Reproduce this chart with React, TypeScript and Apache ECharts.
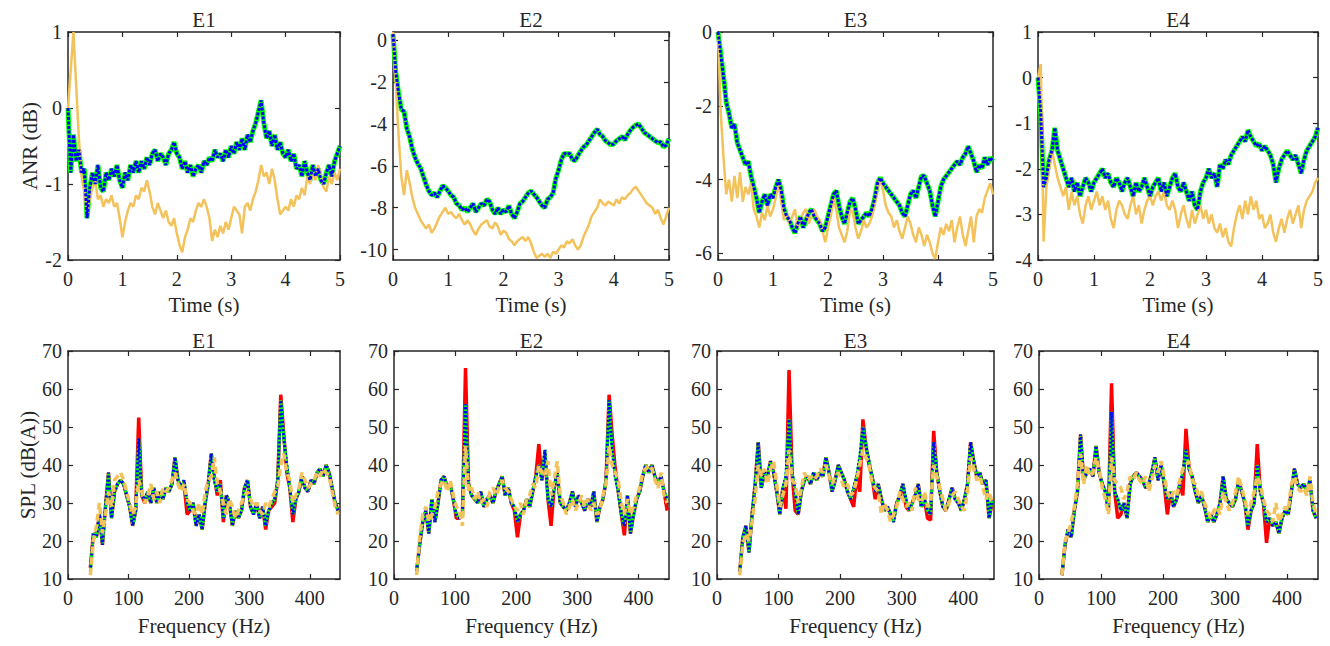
import { useEffect, useRef } from 'react'
import * as echarts from 'echarts'

const TITLES = ['E1', 'E2', 'E3', 'E4']

// sample grids (x positions only)
const TIME = Array.from({ length: 101 }, (_, i) => Math.round(i * 5) / 100)
const FREQ = Array.from({ length: 83 }, (_, i) => 37 + i * 5)

const TIME_TICKS = [0, 1, 2, 3, 4, 5]
const FREQ_TICKS = [0, 100, 200, 300, 400]
const SPL_TICKS = [10, 20, 30, 40, 50, 60, 70]
const ANR_TICKS = [
  [-2, -1, 0, 1],
  [-10, -8, -6, -4, -2, 0],
  [-6, -4, -2, 0],
  [-4, -3, -2, -1, 0, 1],
]
const ANR_RANGE = [[-2, 1], [-10.5, 0.4], [-6.18, 0], [-4, 1]]

// ANR (dB), controlled (green + blue dotted) and reference (yellow)
const anrE1Ctrl = [
  0, -0.85, -0.35, -0.7, -0.55, -0.85, -0.8, -1.45, -1.05, -0.85,
  -1.0, -0.75, -1.05, -1.1, -0.85, -0.95, -0.8, -0.9, -0.75, -0.95,
  -1.05, -0.85, -0.95, -0.75, -0.85, -0.7, -0.85, -0.7, -0.8, -0.65,
  -0.75, -0.6, -0.55, -0.7, -0.6, -0.65, -0.75, -0.6, -0.55, -0.45,
  -0.6, -0.65, -0.8, -0.7, -0.85, -0.75, -0.9, -0.8, -0.75, -0.85,
  -0.7, -0.75, -0.65, -0.7, -0.55, -0.65, -0.6, -0.7, -0.55, -0.65,
  -0.5, -0.6, -0.45, -0.55, -0.4, -0.55, -0.35, -0.45, -0.3, -0.2,
  -0.05, 0.1, -0.2, -0.4, -0.3, -0.5, -0.35, -0.55, -0.45, -0.6,
  -0.65, -0.55, -0.7, -0.6, -0.8, -0.75, -0.9, -0.7, -0.85, -0.95,
  -0.75, -0.9, -0.8, -0.95, -1.0, -0.85, -0.75, -0.9, -0.7, -0.6,
  -0.5,
]
const anrE1Ref = [
  0, 0.5, 1.0, 0.3, -0.4, -0.9, -1.1, -1.4, -1.2, -1.05,
  -0.95, -1.2, -1.15, -1.3, -1.2, -1.25, -1.15, -1.3, -1.25, -1.45,
  -1.7, -1.5, -1.35, -1.25, -1.3, -1.15, -1.2, -1.05, -1.1, -0.95,
  -1.1, -1.3, -1.4, -1.25, -1.35, -1.45, -1.35, -1.5, -1.55, -1.45,
  -1.65, -1.8, -1.9, -1.7, -1.6, -1.45, -1.5, -1.35, -1.25, -1.3,
  -1.2, -1.3, -1.45, -1.75, -1.6, -1.7, -1.55, -1.65, -1.5, -1.6,
  -1.45, -1.3, -1.35, -1.4, -1.65, -1.3, -1.25, -1.35, -1.2, -1.1,
  -0.95, -0.75, -0.9, -0.85, -1.0, -0.8, -0.95, -1.2, -1.4, -1.35,
  -1.3, -1.35, -1.2, -1.3, -1.15, -1.2, -1.05, -1.15, -0.9, -1.0,
  -0.85, -0.95, -0.75, -0.9, -1.05, -1.1, -0.9, -1.0, -0.85, -0.95,
  -0.8,
]
const anrE2Ctrl = [
  0.3, -1.5, -2.5, -3.3, -3.4, -4.2, -4.6, -5.2, -5.6, -5.9,
  -6.1, -6.5, -6.9, -7.2, -7.4, -7.3, -7.5, -7.2, -6.95, -7.05,
  -7.2, -7.4, -7.5, -7.8, -7.9, -8.1, -8.0, -8.2, -8.0, -7.8,
  -8.2, -8.0, -7.8, -7.9, -7.6, -7.7, -8.1, -8.3, -8.0, -8.3,
  -8.1, -8.2, -7.9, -8.3, -8.5, -8.2, -7.8, -7.7, -7.5, -7.3,
  -7.2, -7.35, -7.5, -7.7, -7.9, -8.0, -7.6, -7.5, -7.3, -6.6,
  -6.2, -5.7, -5.4, -5.45, -5.4, -5.7, -5.75, -5.5, -5.3, -5.1,
  -5.0, -4.8, -4.6, -4.4, -4.25, -4.5, -4.6, -4.8, -4.9, -5.0,
  -4.95, -4.8, -4.7, -4.6, -4.75, -4.5, -4.3, -4.15, -4.05, -4.0,
  -4.2, -4.4, -4.5, -4.6, -4.7, -4.8, -4.9, -4.85, -5.1, -5.0,
  -4.7,
]
const anrE2Ref = [
  0.4, -2.0, -4.5, -6.5, -7.4, -6.2, -6.8, -7.5, -8.0, -8.3,
  -8.6, -8.8, -9.0, -8.8, -9.2, -9.0, -8.7, -8.4, -8.2, -8.0,
  -8.3, -8.2, -8.4, -8.5, -8.3, -8.6, -8.8, -8.6, -8.8, -9.1,
  -9.3, -9.0, -8.8, -8.7, -8.6, -8.9, -9.0, -8.7, -8.9, -9.3,
  -9.1, -9.2, -9.5, -9.6, -9.8, -9.6, -9.5, -9.4, -9.6, -9.4,
  -9.7, -10.1, -10.4, -10.3, -10.2, -10.35, -10.2, -10.4, -10.1, -10.2,
  -10.0, -9.8, -9.9, -9.6, -9.7, -9.5, -9.8, -10.0, -9.8, -9.4,
  -9.1, -8.8, -8.4, -8.2, -8.0, -7.6, -7.8, -7.9, -7.7, -7.8,
  -7.9, -7.6, -7.8, -7.5, -7.6, -7.4, -7.3, -7.1, -7.0, -7.2,
  -7.4, -7.6, -7.8, -7.9, -8.0, -8.3, -8.1, -8.5, -8.8, -8.4,
  -8.0,
]
const anrE3Ctrl = [
  0, -0.6, -1.2, -1.9, -2.2, -2.6, -2.5, -3.0, -3.2, -3.4,
  -3.6, -3.5, -3.9, -4.2, -4.5, -4.9, -4.6, -4.4, -4.7, -4.4,
  -4.5, -4.2, -4.0, -4.3, -4.8, -5.0, -5.1, -5.3, -5.45, -5.2,
  -5.0, -5.3, -5.1, -4.9, -4.8, -5.0, -5.1, -5.2, -5.4, -5.3,
  -5.0, -4.7, -4.4, -4.3, -4.7, -5.0, -5.2, -4.9, -4.6, -4.5,
  -4.8, -5.2, -5.1, -5.0, -4.9, -5.0, -4.8, -4.5, -4.1, -3.95,
  -4.1, -4.2, -4.3, -4.4, -4.5, -4.6, -4.7, -4.9, -5.0, -4.7,
  -4.4, -4.3, -4.5, -4.2, -3.9, -3.9, -4.1, -4.3, -4.7, -5.0,
  -4.6, -4.2, -4.0, -3.9, -3.8, -3.7, -3.6, -3.5, -3.6, -3.4,
  -3.3, -3.1, -3.3, -3.5, -3.8, -3.6, -3.7, -3.4, -3.6, -3.4,
  -3.5,
]
const anrE3Ref = [
  0, -2.2, -3.4, -4.4, -4.0, -4.6, -3.9, -4.5, -3.8, -4.6,
  -4.2, -4.4, -4.1, -4.8, -5.0, -5.3, -4.9, -5.1, -4.7, -5.0,
  -4.8, -4.5, -4.1, -4.6, -5.1, -4.9, -5.2, -5.0, -4.8, -5.3,
  -5.1, -4.9, -4.8, -5.2, -5.0, -4.8, -5.0, -5.1, -5.4, -5.7,
  -5.3, -5.0, -4.5, -4.8, -5.3, -5.5, -5.7, -5.4, -4.8, -4.9,
  -5.3, -5.6, -5.4, -5.1, -5.3, -5.2, -5.0, -4.7, -4.2, -4.0,
  -4.3, -4.7, -4.9, -5.0, -5.3, -5.1, -5.4, -5.6, -5.3, -5.0,
  -5.2, -5.5, -5.7, -5.3, -5.5, -5.8, -5.5, -5.7, -6.0, -6.15,
  -5.7, -5.3, -5.5, -5.2, -5.4, -5.1, -5.7, -5.3, -5.0, -5.5,
  -5.8, -5.4, -5.0, -5.7, -5.0, -4.8, -4.9, -4.5, -4.3, -4.1,
  -4.4,
]
const anrE4Ctrl = [
  0, -0.8, -2.4, -2.2, -1.8, -1.6, -1.1, -1.6, -1.8, -2.0,
  -2.2, -2.4, -2.2, -2.5, -2.3, -2.6, -2.4, -2.2, -2.3, -2.5,
  -2.3, -2.2, -2.1, -2.0, -2.2, -2.1, -2.3, -2.4, -2.2, -2.3,
  -2.5, -2.3, -2.2, -2.4, -2.6, -2.3, -2.5, -2.4, -2.2, -2.4,
  -2.6, -2.4, -2.3, -2.2, -2.5, -2.3, -2.6, -2.4, -2.2, -2.1,
  -2.4, -2.5, -2.3, -2.5, -2.7, -2.5, -2.8, -2.9, -2.5, -2.3,
  -2.2, -2.0, -2.2, -2.1, -2.4, -1.9, -2.0, -1.8, -1.9, -1.7,
  -1.6, -1.5, -1.4, -1.3, -1.4, -1.15, -1.3, -1.4, -1.5, -1.45,
  -1.6, -1.5, -1.6, -1.7, -1.9, -2.3, -2.0, -1.8, -1.7, -1.6,
  -1.7, -1.8, -1.7, -1.9, -2.1, -1.8, -1.6, -1.5, -1.4, -1.3,
  -1.1,
]
const anrE4Ref = [
  0, 0.3, -3.6, -2.4, -2.0, -1.6, -1.9, -2.2, -2.4, -2.6,
  -2.4, -2.9, -2.5, -2.8, -2.6, -3.0, -3.2, -2.8, -2.6, -2.9,
  -2.7, -2.5, -2.8, -2.6, -2.9, -2.7, -3.1, -3.3, -2.9, -2.7,
  -2.8, -3.0, -3.1, -2.8, -2.6, -3.0, -2.8, -3.2, -2.9, -2.7,
  -2.6, -2.8, -2.6, -2.5, -2.7, -2.5, -2.8, -2.9, -2.7, -2.9,
  -3.3, -3.0, -2.8, -3.1, -3.3, -2.9, -3.2, -3.0, -2.8, -3.1,
  -2.9, -3.2, -3.0, -3.3, -3.4, -3.2, -3.5, -3.3, -3.6, -3.7,
  -3.3, -3.0, -2.8, -3.1, -2.7, -3.0, -2.6, -2.9, -2.7, -3.1,
  -3.0, -3.3, -3.2, -3.0, -3.4, -3.6, -3.3, -3.1, -3.4, -3.1,
  -2.9, -3.2, -3.0, -2.8, -3.3, -2.9, -2.7, -2.6, -2.5, -2.3,
  -2.2,
]

// SPL (dB(A)): off (red), controlled (green + blue dotted), reference (yellow dashed)
const splE1Off = [
  13, 22, 21, 27, 19, 29, 38, 26, 33, 35,
  36, 35, 32, 29, 24, 28, 52.5, 32, 30, 33,
  30, 34, 30, 33, 31, 34, 33, 35, 42, 36,
  34, 35, 27, 28, 30, 24, 27, 23, 30, 35,
  43, 37, 32, 36, 25, 32, 30, 24, 28, 26,
  28, 34, 36, 29, 27, 30, 26, 29, 23, 28,
  29, 30, 36, 58.5, 48, 38, 34, 25, 31, 33,
  37, 34, 33, 36, 35, 38, 39, 37, 40, 38,
  34, 30, 28,
]
const splE1Ctrl = [
  12, 22, 21, 27, 19, 29, 38, 26, 33, 35,
  36, 35, 32, 29, 24, 28, 47, 32, 31, 33,
  30, 34, 30, 33, 31, 34, 33, 35, 42, 36,
  34, 36, 30, 28, 30, 24, 27, 23, 30, 35,
  43, 36, 33, 35, 26, 32, 30, 24, 28, 26,
  28, 34, 36, 29, 27, 30, 26, 29, 24, 28,
  30, 31, 36, 57, 47, 40, 34, 27, 31, 33,
  37, 34, 33, 36, 35, 38, 39, 37, 40, 38,
  34, 30, 28,
]
const splE1Ref = [
  11, 20, 24, 30, 22, 27, 33, 29, 36, 37,
  38, 36, 33, 30, 27, 29, 36, 33, 30, 32,
  35, 31, 33, 30, 34, 33, 34, 36, 38, 35,
  33, 35, 31, 30, 28, 27, 30, 27, 33, 36,
  37, 42, 35, 33, 30, 27, 31, 29, 26, 28,
  30, 32, 33, 31, 29, 30, 28, 27, 30, 29,
  31, 33, 34, 40, 43, 38, 36, 30, 32, 34,
  38, 36, 34, 35, 36, 38, 37, 39, 38, 37,
  33, 29, 27,
]
const splE2Off = [
  12, 19, 25, 28, 22, 31, 25, 30, 36, 37,
  34, 35, 31, 26, 26, 27, 65.5, 35, 32, 31,
  30, 33, 29, 31, 32, 30, 33, 35, 37, 32,
  34, 30, 28, 21, 27, 28, 31, 29, 33, 37,
  45.5, 36, 43, 31, 24, 34, 38, 30, 29, 28,
  30, 33, 29, 32, 30, 28, 31, 29, 33, 25,
  29, 31, 36, 58.5, 48, 39, 33, 27, 21.5, 32,
  22, 27, 31, 33, 37, 40, 38, 40, 37, 35,
  37, 33, 28,
]
const splE2Ctrl = [
  12, 19, 25, 28, 22, 31, 25, 30, 36, 37,
  34, 35, 31, 27, 26, 27, 56, 35, 32, 31,
  30, 33, 29, 31, 32, 30, 33, 35, 37, 32,
  34, 30, 29, 25, 27, 28, 31, 29, 33, 37,
  40, 36, 44, 31, 29, 34, 38, 30, 29, 28,
  30, 33, 29, 32, 30, 28, 31, 29, 33, 25,
  29, 31, 36, 57, 44, 37, 33, 27, 24, 32,
  22, 27, 31, 33, 37, 40, 38, 40, 37, 35,
  37, 33, 31,
]
const splE2Ref = [
  11, 21, 27, 29, 25, 27, 29, 33, 35, 36,
  33, 36, 32, 29, 28, 24, 45, 33, 34, 31,
  33, 30, 31, 29, 33, 34, 32, 34, 36, 34,
  33, 31, 29, 28, 30, 27, 31, 32, 35, 34,
  40, 38, 37, 41, 32, 36, 41, 32, 30, 27,
  29, 31, 28, 30, 32, 29, 31, 28, 30, 27,
  28, 32, 35, 45, 40, 38, 36, 30, 27, 31,
  27, 29, 32, 34, 38, 39, 40, 39, 36, 34,
  38, 32, 30,
]
const splE3Off = [
  12, 21, 24, 17, 27, 35, 46, 34, 38, 37,
  41, 38, 33, 27, 34, 28.5, 65, 38, 28, 27,
  33, 36, 37, 35, 38, 36, 38, 37, 42, 38,
  33, 36, 40, 38, 36, 33, 31, 29, 37, 33,
  52, 45, 40, 37, 31, 35, 31, 28, 29, 27,
  26, 30, 32, 35, 29, 28, 30, 32, 35, 29,
  31, 26, 25.5, 49, 38, 33, 29, 28, 31, 34,
  31, 30, 28, 31, 35, 46, 41, 37, 38, 35,
  36, 26, 30,
]
const splE3Ctrl = [
  12, 21, 24, 17, 27, 35, 46, 34, 38, 37,
  41, 38, 33, 27, 34, 37, 52, 38, 33, 27,
  33, 36, 37, 35, 38, 36, 38, 37, 42, 38,
  33, 36, 40, 38, 36, 33, 31, 34, 37, 42,
  50, 45, 41, 37, 33, 35, 31, 28, 29, 27,
  25, 30, 32, 35, 31, 28, 30, 32, 35, 29,
  31, 28, 27, 46, 38, 33, 29, 28, 31, 34,
  31, 30, 28, 31, 35, 46, 41, 37, 38, 35,
  36, 26, 31,
]
const splE3Ref = [
  11, 19, 22, 20, 25, 31, 40, 37, 39, 35,
  39, 41, 35, 29, 32, 35, 44, 36, 35, 30,
  34, 38, 36, 37, 36, 37, 39, 38, 40, 37,
  35, 37, 38, 36, 34, 35, 32, 33, 36, 40,
  44, 42, 40, 35, 34, 33, 27, 30, 28, 25,
  27, 29, 33, 31, 29, 30, 28, 34, 31, 30,
  33, 29, 30, 40, 37, 34, 31, 28, 30, 32,
  33, 31, 29, 28, 33, 42, 39, 36, 37, 34,
  31, 33, 30,
]
const splE4Off = [
  11, 19, 23, 21, 28, 33, 48, 36, 38, 39,
  37, 45, 38, 35, 33, 28, 61.5, 33, 26, 27,
  30, 26, 35, 37, 38, 37, 36, 34, 35, 38,
  42, 36, 40, 35, 27, 33, 29, 31, 35, 32,
  49.5, 39, 37, 33, 30, 32, 29, 25, 27, 25,
  27, 30, 37, 31, 30, 29, 31, 36, 33, 30,
  23, 28, 30, 45.5, 33, 30, 19.5, 26, 24, 25,
  22, 26, 28, 27, 33, 39, 35, 34, 35, 33,
  36, 28, 26,
]
const splE4Ctrl = [
  11, 19, 23, 21, 28, 33, 48, 36, 38, 39,
  37, 45, 38, 35, 33, 28, 54, 33, 31, 28,
  30, 26, 35, 37, 38, 37, 36, 34, 35, 38,
  42, 36, 40, 35, 31, 33, 29, 31, 35, 38,
  44, 39, 37, 33, 30, 32, 29, 25, 27, 25,
  27, 30, 37, 31, 30, 29, 31, 36, 33, 30,
  24, 28, 30, 40, 33, 30, 25, 26, 24, 25,
  22, 26, 28, 27, 33, 39, 35, 34, 35, 33,
  36, 28, 26,
]
const splE4Ref = [
  11, 20, 22, 25, 29, 35, 43, 35, 40, 37,
  38, 42, 39, 34, 31, 27, 42, 36, 35, 34,
  31, 33, 37, 36, 38, 36, 35, 37, 33, 36,
  40, 38, 41, 37, 33, 31, 33, 32, 36, 39,
  40, 41, 36, 35, 32, 33, 30, 28, 26, 28,
  29, 27, 33, 30, 28, 30, 33, 37, 34, 31,
  27, 30, 33, 37, 35, 31, 28, 27, 25, 30,
  25, 27, 29, 28, 35, 37, 34, 33, 34, 32,
  37, 30, 27,
]

const ANR_CTRL = [anrE1Ctrl, anrE2Ctrl, anrE3Ctrl, anrE4Ctrl]
const ANR_REF = [anrE1Ref, anrE2Ref, anrE3Ref, anrE4Ref]
const SPL_OFF = [splE1Off, splE2Off, splE3Off, splE4Off]
const SPL_CTRL = [splE1Ctrl, splE2Ctrl, splE3Ctrl, splE4Ctrl]
const SPL_REF = [splE1Ref, splE2Ref, splE3Ref, splE4Ref]

// layout: [left, top, width, height] of each plot box
const TOP_BOXES = [[68, 32, 272, 228], [393, 32, 276, 228], [718, 32, 275, 228], [1038, 32, 280, 228]]
const BOTTOM_BOXES = [[68, 351, 272, 228], [394, 351, 275, 228], [717, 351, 277, 228], [1039, 351, 279, 228]]

const FONT = '"Liberation Serif", "Times New Roman", serif'
const INK = '#262626'
const GREEN = '#00ff00'
const BLUE = '#0000ff'
const RED = '#ff0000'
const YELLOW = '#f3c25b'

function axisPair(kind: 'x' | 'y', gridIndex: number, min: number, max: number, ticks: number[], name = '', nameGap = 30) {
  const common = {
    type: 'value',
    gridIndex,
    min,
    max,
    axisLine: { show: true, onZero: false, lineStyle: { color: INK, width: 1.5 } },
    axisTick: { show: true, inside: true, length: 5, customValues: ticks, lineStyle: { color: INK, width: 1.2 } },
    splitLine: { show: false },
  }
  const main = {
    ...common,
    position: kind === 'x' ? 'bottom' : 'left',
    axisLabel: { show: true, customValues: ticks, color: INK, fontFamily: FONT, fontSize: 20, margin: kind === 'x' ? 9 : 6 },
    name,
    nameLocation: 'middle',
    nameGap,
    nameTextStyle: { color: INK, fontFamily: FONT, fontSize: 21 },
  }
  const mirror = { ...common, position: kind === 'x' ? 'top' : 'right', axisLabel: { show: false } }
  return [main, mirror]
}

const line = (idx: number, xs: number[], ys: number[], color: string, width: number, type: any, z: number) => ({
  type: 'line',
  xAxisIndex: idx * 2,
  yAxisIndex: idx * 2,
  data: ys.map((v, i) => [xs[i], v]),
  symbol: 'none',
  lineStyle: { color, width, type },
  z,
})

function buildOption(): echarts.EChartsOption {
  const grid: any[] = []
  const xAxis: any[] = []
  const yAxis: any[] = []
  const series: any[] = []
  const graphic: any[] = []

  TOP_BOXES.forEach((b, i) => {
    grid.push({ left: b[0], top: b[1], width: b[2], height: b[3] })
    xAxis.push(...axisPair('x', i, 0, 5, TIME_TICKS, 'Time (s)', 34))
    yAxis.push(...axisPair('y', i, ANR_RANGE[i][0], ANR_RANGE[i][1], ANR_TICKS[i], i === 0 ? 'ANR (dB)' : '', 28))
    series.push(
      line(i, TIME, ANR_CTRL[i], GREEN, 5, 'solid', 2),
      line(i, TIME, ANR_REF[i], YELLOW, 2.5, 'solid', 3),
      line(i, TIME, ANR_CTRL[i], BLUE, 3, [3, 1.5], 4),
    )
    graphic.push({ type: 'text', x: b[0] + b[2] / 2, y: 20, style: { text: TITLES[i], font: `21px ${FONT}`, fill: INK, align: 'center', verticalAlign: 'middle' } })
  })

  BOTTOM_BOXES.forEach((b, j) => {
    const i = j + 4
    grid.push({ left: b[0], top: b[1], width: b[2], height: b[3] })
    xAxis.push(...axisPair('x', i, 0, 450, FREQ_TICKS, 'Frequency (Hz)', 36))
    yAxis.push(...axisPair('y', i, 10, 70, SPL_TICKS, j === 0 ? 'SPL (dB(A))' : '', 30))
    series.push(
      line(i, FREQ, SPL_OFF[j], RED, 3.5, 'solid', 2),
      line(i, FREQ, SPL_CTRL[j], GREEN, 3, 'solid', 3),
      line(i, FREQ, SPL_CTRL[j], BLUE, 3, [2, 2], 4),
      line(i, FREQ, SPL_REF[j], YELLOW, 3.5, [7, 4], 5),
    )
    graphic.push({ type: 'text', x: b[0] + b[2] / 2, y: 341, style: { text: TITLES[j], font: `21px ${FONT}`, fill: INK, align: 'center', verticalAlign: 'middle' } })
  })

  return {
    animation: false,
    backgroundColor: '#ffffff',
    grid,
    xAxis,
    yAxis,
    series,
    graphic,
  }
}

export default function App() {
  const containerRef = useRef<HTMLDivElement>(null)

  useEffect(() => {
    const el = containerRef.current
    if (!el) return
    const chart = echarts.init(el, null, { renderer: 'svg' })
    chart.setOption(buildOption())
    return () => chart.dispose()
  }, [])

  return (
    <div
      ref={containerRef}
      style={{ position: 'fixed', left: 0, top: 0, width: 1330, height: 646, background: '#fff' }}
    />
  )
}
